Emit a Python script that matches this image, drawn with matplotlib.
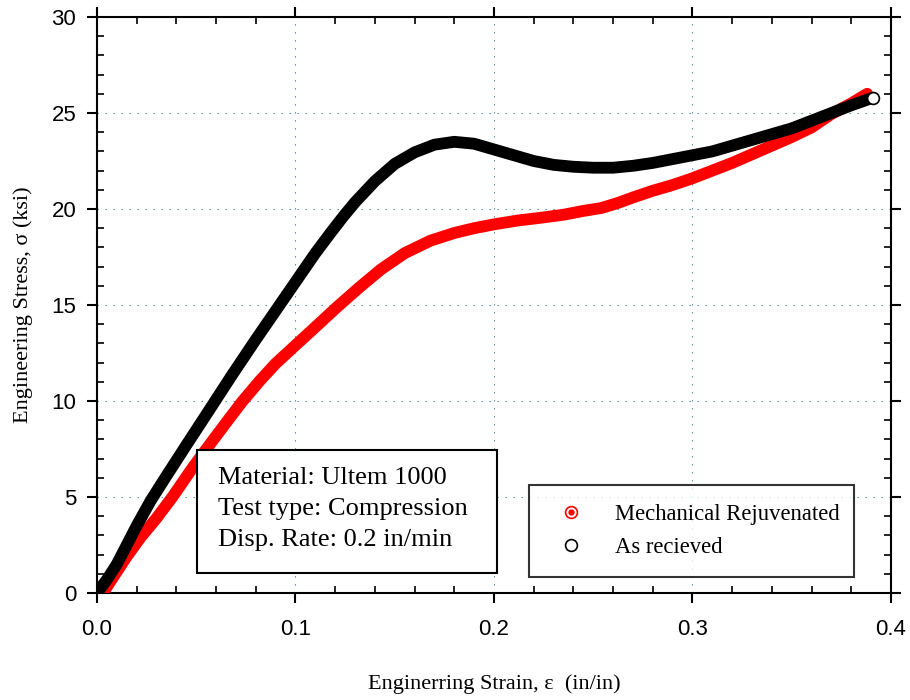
import numpy as np
import matplotlib.pyplot as plt
from matplotlib.lines import Line2D
from matplotlib.patches import Rectangle
from matplotlib.ticker import MultipleLocator

# as received (black)
strain_ar = [0.000, 0.005, 0.010, 0.015, 0.020, 0.027, 0.035, 0.045, 0.057, 0.068,
             0.080, 0.092, 0.100, 0.110, 0.118, 0.124, 0.130, 0.140, 0.150, 0.160,
             0.170, 0.180, 0.190, 0.200, 0.210, 0.220, 0.230, 0.240, 0.250, 0.260,
             0.270, 0.280, 0.290, 0.300, 0.310, 0.320, 0.330, 0.340, 0.350, 0.360,
             0.370, 0.380, 0.391]
stress_ar = [0.0, 0.7, 1.5, 2.5, 3.5, 4.8, 6.1, 7.7, 9.6, 11.35,
             13.2, 15.0, 16.2, 17.7, 18.8, 19.6, 20.35, 21.45, 22.35, 22.95,
             23.35, 23.5, 23.4, 23.1, 22.8, 22.5, 22.3, 22.2, 22.15, 22.15,
             22.25, 22.4, 22.6, 22.8, 23.0, 23.3, 23.6, 23.9, 24.2, 24.6,
             25.0, 25.4, 25.8]

# mechanical rejuvenated (red)
strain_mr = [0.000, 0.003, 0.008, 0.015, 0.022, 0.030, 0.038, 0.048, 0.058, 0.066,
             0.073, 0.082, 0.090, 0.100, 0.110, 0.121, 0.132, 0.143, 0.155, 0.168,
             0.180, 0.190, 0.200, 0.212, 0.224, 0.235, 0.245, 0.254, 0.262, 0.270,
             0.280, 0.290, 0.300, 0.310, 0.320, 0.330, 0.340, 0.350, 0.360, 0.370,
             0.380, 0.388]
stress_mr = [0.0, 0.0, 0.8, 1.9, 2.9, 3.9, 5.0, 6.5, 7.9, 9.0,
             9.95, 11.05, 11.95, 12.9, 13.85, 14.9, 15.9, 16.85, 17.7, 18.35,
             18.75, 19.0, 19.2, 19.4, 19.55, 19.7, 19.9, 20.05, 20.3, 20.6,
             20.95, 21.25, 21.6, 22.0, 22.4, 22.85, 23.3, 23.75, 24.25, 24.95,
             25.5, 26.0]

info = "Material: Ultem 1000\nTest type: Compression\nDisp. Rate: 0.2 in/min"

serif = "Liberation Serif"
sans = "Liberation Sans"

fig = plt.figure(figsize=(9.1, 7.0), dpi=100)
ax = fig.add_axes([0.1066, 0.1529, 0.8725, 0.8228])

ax.plot(strain_mr, stress_mr, color="red", lw=8.5, solid_capstyle="round",
        solid_joinstyle="round", zorder=3)
ax.plot(strain_ar, stress_ar, color="black", lw=8.5, solid_capstyle="round",
        solid_joinstyle="round", zorder=4)
ax.plot(strain_ar[-1], stress_ar[-1], "o", ms=8.5, mfc="white", mec="black", mew=1.2, zorder=5)

ax.set_xlim(0, 0.4)
ax.set_ylim(0, 30)
ax.xaxis.set_minor_locator(MultipleLocator(0.02))
ax.yaxis.set_major_locator(MultipleLocator(5))
ax.yaxis.set_minor_locator(MultipleLocator(1))
ax.set_xticks([0, 0.1, 0.2, 0.3, 0.4])
ax.set_xticklabels(["0.0", "0.1", "0.2", "0.3", "0.4"], fontfamily=sans, fontsize=16)
for lab in ax.get_yticklabels():
    lab.set_fontfamily(sans)
    lab.set_fontsize(16)

ax.tick_params(which="major", direction="out", length=7, width=1.5, top=True, right=True)
ax.tick_params(which="minor", direction="in", length=5, width=1.2, top=True, right=True)
ax.tick_params(axis="x", which="major", pad=12)
ax.tick_params(axis="y", which="major", pad=8)
for s in ax.spines.values():
    s.set_linewidth(1.5)

ax.grid(True, which="major", color="#3f8a94", linestyle=(0, (1.2, 6)), linewidth=0.8)
ax.set_axisbelow(True)

ax.set_xlabel("Enginerring Strain, ε  (in/in)", fontfamily=serif, fontsize=16)
ax.set_ylabel("Engineering Stress, σ (ksi)", fontfamily=serif, fontsize=16)
ax.xaxis.set_label_coords(0.5, -0.141)
ax.yaxis.set_label_coords(-0.08, 0.5)

ax.add_patch(Rectangle((0.126, 0.0347), 0.378, 0.2135, transform=ax.transAxes,
                       facecolor="white", edgecolor="black", lw=1.5, zorder=6))
ax.text(0.1524, 0.218, info, transform=ax.transAxes, va="top", ha="left",
        fontfamily=serif, fontsize=19, linespacing=1.52, zorder=7)

h_mr = (Line2D([], [], marker="o", ls="", ms=8.5, mfc="white", mec="red", mew=1.2),
        Line2D([], [], marker="o", ls="", ms=3.5, color="red"))
h_ar = Line2D([], [], marker="o", ls="", ms=8.5, mfc="white", mec="black", mew=1.2)
leg = ax.legend([h_mr, h_ar], ["Mechanical Rejuvenated", "As recieved"],
                loc="lower left", bbox_to_anchor=(0.544, 0.0278, 0.409, 0.161),
                mode="expand", prop={"family": serif, "size": 16.3}, frameon=True,
                fancybox=False, borderpad=0.85, handlelength=2.0, handletextpad=0.95,
                labelspacing=0.5, borderaxespad=0)
leg.get_frame().set_edgecolor("black")
leg.get_frame().set_linewidth(1.5)
leg.set_zorder(8)

fig.savefig("out.png", dpi=100)
